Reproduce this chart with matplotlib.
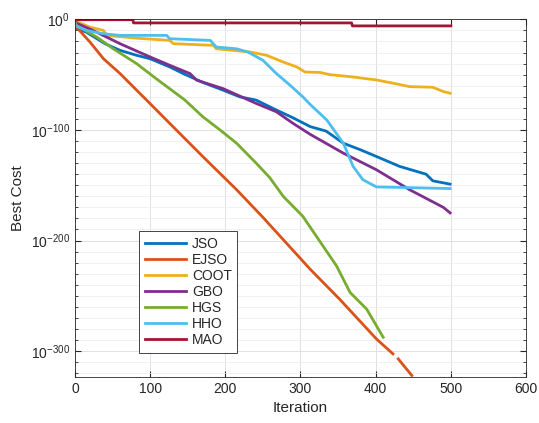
import numpy as np
import matplotlib
matplotlib.use("Agg")
import matplotlib.pyplot as plt
from matplotlib.ticker import FixedLocator, MultipleLocator, FuncFormatter

plt.rcParams['font.family'] = ['Liberation Sans', 'DejaVu Sans']
plt.rcParams['mathtext.fontset'] = 'custom'
plt.rcParams['mathtext.rm'] = 'Liberation Sans'
plt.rcParams['mathtext.it'] = 'Liberation Sans:italic'

# best cost, stored as log10(cost)
jso_iter = [0, 2, 15, 40, 60, 82, 100, 126, 144, 170, 197, 219, 241, 268, 290, 313, 334, 357, 380, 401, 432, 467, 476, 499]
jso_log = [-4, -8.5, -11.5, -22, -28, -32.5, -35.6, -43, -49, -57, -64, -70, -73, -82, -89, -97, -101, -112, -118, -124, -133, -140, -146, -149]

ejso_iter = [0, 2, 20, 38, 60, 82, 95, 126, 170, 215, 250, 313, 352, 401, 423, 426, 430, 448]
ejso_log = [-1, -7, -20.5, -35.6, -49, -64, -72.8, -94, -124, -154, -179, -226, -253, -289, -302.5, np.nan, -307, -322]

coot_iter = [0, 20, 38, 42, 82, 126, 131, 166, 184, 188, 233, 255, 277, 295, 306, 326, 339, 366, 401, 423, 445, 476, 490, 499]
coot_log = [-1.5, -7, -10, -14.5, -17, -19, -22, -23, -23.5, -26.6, -29.5, -32.5, -38.6, -43, -47.6, -48, -50, -51.8, -54.8, -57.7, -60.8, -61.4, -65.3, -66.8]

gbo_iter = [0, 4, 24, 60, 100, 126, 153, 162, 197, 241, 268, 290, 313, 357, 401, 445, 490, 499]
gbo_log = [-2, -4, -10, -22, -34, -41.5, -49, -55, -62.6, -76, -83.6, -94, -104, -121, -136, -154, -170, -175]

hgs_iter = [0, 2, 29, 51, 82, 108, 146, 170, 193, 215, 241, 259, 277, 303, 348, 366, 388, 410]
hgs_log = [-2, -5.5, -16, -26.6, -40, -53.6, -72.8, -88, -100, -112, -130, -143, -160, -178, -223, -247, -262, -287.5]

hho_iter = [0, 15, 38, 60, 122, 126, 180, 188, 215, 230, 250, 268, 286, 303, 313, 335, 357, 370, 383, 401, 499]
hho_log = [-5.5, -10, -13, -14.5, -14.5, -17.5, -19, -25, -26.6, -29.5, -37, -49, -59.5, -70, -77, -91, -112, -133, -145, -151.5, -153]

mao_iter = [0, 77, 78, 368, 369, 500]
mao_log = [-0.3, -0.3, -3.2, -3.2, -5.9, -5.9]

names = ["JSO", "EJSO", "COOT", "GBO", "HGS", "HHO", "MAO"]
colors = ["#0072BD", "#D95319", "#EDB120", "#7E2F8E", "#77AC30", "#4DBEEE", "#A2142F"]
series = [(jso_iter, jso_log), (ejso_iter, ejso_log), (coot_iter, coot_log), (gbo_iter, gbo_log),
          (hgs_iter, hgs_log), (hho_iter, hho_log), (mao_iter, mao_log)]

fig = plt.figure(figsize=(5.39, 4.23), dpi=100)
ax = fig.add_axes([0.139, 0.109, 0.837, 0.846])

for name, col, (xs, ys) in zip(names, colors, series):
    ax.plot(xs, ys, color=col, linewidth=2, label=name)

ax.set_xlim(0, 600)
ax.set_ylim(-323.3, 0.3)
ax.xaxis.set_major_locator(MultipleLocator(100))
ax.yaxis.set_major_locator(FixedLocator([0, -100, -200, -300]))
ax.yaxis.set_minor_locator(MultipleLocator(10))
ax.yaxis.set_major_formatter(FuncFormatter(lambda v, p: r"$10^{%d}$" % int(round(v))))

gc = "#262626"
for s in ax.spines.values():
    s.set_color(gc)
    s.set_linewidth(0.6)
ax.tick_params(which='both', direction='in', top=True, right=True, colors=gc, labelsize=10)
ax.tick_params(which='major', length=4)
ax.tick_params(which='minor', length=2.5)
ax.grid(True, which='major', color='#dcdcdc', linewidth=0.6)
ax.grid(True, which='minor', axis='y', color='#ececec', linewidth=0.5)
ax.set_axisbelow(True)

ax.set_xlabel("Iteration", fontsize=11, color=gc)
ax.set_ylabel("Best Cost", fontsize=11, color=gc)

leg = ax.legend(loc='lower left', bbox_to_anchor=(0.142, 0.067), borderaxespad=0,
                fontsize=10, handlelength=3.0, labelspacing=0.15, handletextpad=0.4,
                borderpad=0.4, fancybox=False, framealpha=1)
leg.get_frame().set_edgecolor(gc)
leg.get_frame().set_linewidth(0.6)
for t in leg.get_texts():
    t.set_color(gc)

fig.savefig("out.png", dpi=100)
